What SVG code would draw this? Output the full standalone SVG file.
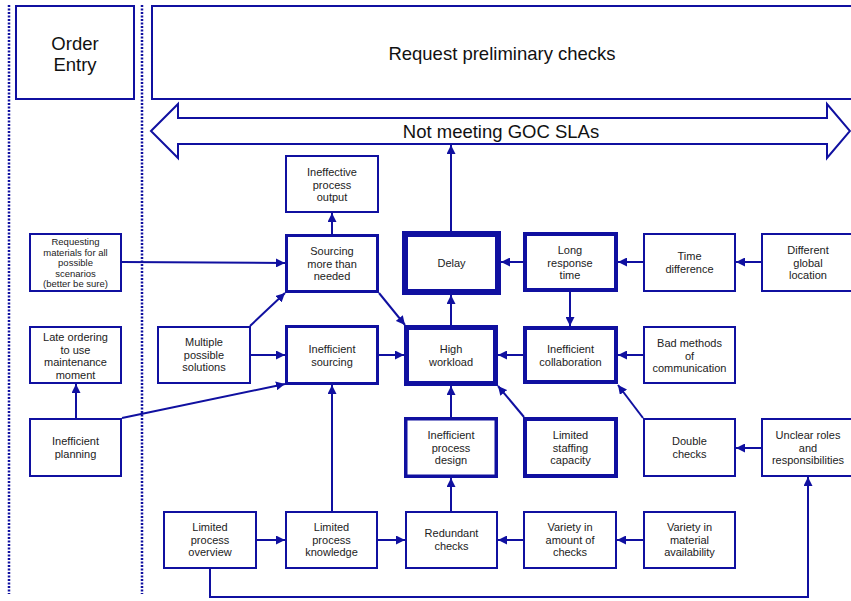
<svg xmlns="http://www.w3.org/2000/svg" width="851" height="601" viewBox="0 0 851 601">
<style>
  .bx { fill: #ffffff; stroke: #1010a0; }
  .t { font-family: "Liberation Sans", Arial, sans-serif; font-size: 11px; fill: #222222; text-anchor: middle; }
  .ts { font-family: "Liberation Sans", Arial, sans-serif; font-size: 9.5px; fill: #222222; text-anchor: middle; }
  .tl { font-family: "Liberation Sans", Arial, sans-serif; font-size: 18.5px; fill: #111111; text-anchor: middle; }
  .c { fill: none; stroke: #1010a0; stroke-width: 2; marker-end: url(#ah); }
  .dot { fill: none; stroke: #1010a0; stroke-width: 2.5; stroke-dasharray: 2 1.5; }
</style>
<defs>
  <marker id="ah" markerUnits="userSpaceOnUse" markerWidth="9" markerHeight="9" viewBox="0 0 9 9" refX="9" refY="4.5" orient="auto">
    <path d="M0,0 L9,4.5 L0,9 z" fill="#1010a0"/>
  </marker>
</defs>
<rect width="851" height="601" fill="#ffffff"/>

<g id="dividers">
  <line class="dot" x1="9" y1="5" x2="9" y2="594"/>
  <line class="dot" x1="142" y1="5" x2="142" y2="594"/>
</g>

<g id="order-entry">
  <rect class="bx" x="16" y="6" width="118" height="93" stroke-width="2"/>
  <text class="tl" x="75" y="50">Order</text>
  <text class="tl" x="75" y="71">Entry</text>
</g>
<g id="request-preliminary-checks">
  <rect class="bx" x="152" y="6" width="710" height="93" stroke-width="2"/>
  <text class="tl" x="502" y="60">Request preliminary checks</text>
</g>
<g id="not-meeting-slas">
  <polygon class="bx" stroke-width="2" points="151,131 178,104 178,118 827,118 827,104 850,131 827,158 827,144 178,144 178,158"/>
  <text class="tl" x="501" y="138">Not meeting GOC SLAs</text>
</g>

<g id="connectors">
  <line class="c" x1="451" y1="231" x2="451" y2="145"/>
  <line class="c" x1="332" y1="234" x2="332" y2="213"/>
  <line class="c" x1="523" y1="262" x2="501" y2="262"/>
  <line class="c" x1="643" y1="262" x2="618" y2="262"/>
  <line class="c" x1="761" y1="262" x2="736" y2="262"/>
  <line class="c" x1="570" y1="292" x2="570" y2="326"/>
  <line class="c" x1="643" y1="355" x2="618" y2="355"/>
  <line class="c" x1="523" y1="355" x2="498" y2="355"/>
  <line class="c" x1="379" y1="355" x2="404" y2="355"/>
  <line class="c" x1="251" y1="355" x2="285" y2="355"/>
  <line class="c" x1="250" y1="326" x2="285" y2="293"/>
  <line class="c" x1="379" y1="293" x2="405" y2="325"/>
  <line class="c" x1="122" y1="262" x2="285" y2="263"/>
  <line class="c" x1="122" y1="418" x2="285" y2="384"/>
  <line class="c" x1="76" y1="418" x2="76" y2="384"/>
  <line class="c" x1="451" y1="325" x2="451" y2="295"/>
  <line class="c" x1="451" y1="417" x2="451" y2="386"/>
  <line class="c" x1="524" y1="417" x2="498" y2="386"/>
  <line class="c" x1="643" y1="418" x2="618" y2="385"/>
  <line class="c" x1="761" y1="448" x2="736" y2="448"/>
  <line class="c" x1="332" y1="511" x2="332" y2="385"/>
  <line class="c" x1="451" y1="511" x2="451" y2="478"/>
  <line class="c" x1="257" y1="540" x2="285" y2="540"/>
  <line class="c" x1="378" y1="540" x2="405" y2="540"/>
  <line class="c" x1="523" y1="540" x2="498" y2="540"/>
  <line class="c" x1="643" y1="540" x2="617" y2="540"/>
  <polyline class="c" points="210,569 210,597 808,597 808,477"/>
</g>

<g id="ineffective-process-output">
  <rect class="bx" x="286" y="156" width="92" height="56" stroke-width="2"/>
  <text class="t" x="332" y="176">Ineffective</text>
  <text class="t" x="332" y="188.5">process</text>
  <text class="t" x="332" y="201">output</text>
</g>
<g id="sourcing-more-than-needed">
  <rect class="bx" x="286.5" y="235.5" width="91" height="56" stroke-width="3"/>
  <text class="t" x="332" y="255">Sourcing</text>
  <text class="t" x="332" y="267.5">more than</text>
  <text class="t" x="332" y="280">needed</text>
</g>
<g id="delay">
  <rect class="bx" x="405" y="234" width="93" height="58" stroke-width="6"/>
  <text class="t" x="451.5" y="267">Delay</text>
</g>
<g id="long-response-time">
  <rect class="bx" x="525" y="234" width="91" height="56" stroke-width="4"/>
  <text class="t" x="570" y="254">Long</text>
  <text class="t" x="570" y="266.5">response</text>
  <text class="t" x="570" y="279">time</text>
</g>
<g id="time-difference">
  <rect class="bx" x="644" y="234" width="91" height="57" stroke-width="2"/>
  <text class="t" x="689.5" y="260">Time</text>
  <text class="t" x="689.5" y="273">difference</text>
</g>
<g id="different-global-location">
  <rect class="bx" x="762" y="234" width="100" height="57" stroke-width="2"/>
  <text class="t" x="808" y="254">Different</text>
  <text class="t" x="808" y="266.5">global</text>
  <text class="t" x="808" y="279">location</text>
</g>
<g id="requesting-materials">
  <rect class="bx" x="30" y="234" width="91" height="57" stroke-width="2"/>
  <text class="ts" x="75.5" y="245">Requesting</text>
  <text class="ts" x="75.5" y="255.6">materials for all</text>
  <text class="ts" x="75.5" y="266.2">possible</text>
  <text class="ts" x="75.5" y="276.8">scenarios</text>
  <text class="ts" x="75.5" y="287.4">(better be sure)</text>
</g>
<g id="late-ordering">
  <rect class="bx" x="30" y="327" width="91" height="56" stroke-width="2"/>
  <text class="t" x="75.5" y="341">Late ordering</text>
  <text class="t" x="75.5" y="353.5">to use</text>
  <text class="t" x="75.5" y="366">maintenance</text>
  <text class="t" x="75.5" y="378.5">moment</text>
</g>
<g id="multiple-possible-solutions">
  <rect class="bx" x="158" y="327" width="92" height="56" stroke-width="2"/>
  <text class="t" x="204" y="346">Multiple</text>
  <text class="t" x="204" y="358.5">possible</text>
  <text class="t" x="204" y="371">solutions</text>
</g>
<g id="inefficient-sourcing">
  <rect class="bx" x="286.5" y="326.5" width="91" height="57" stroke-width="3"/>
  <text class="t" x="332" y="353">Inefficient</text>
  <text class="t" x="332" y="365.5">sourcing</text>
</g>
<g id="high-workload">
  <rect class="bx" x="406.5" y="327.5" width="89" height="56" stroke-width="5"/>
  <text class="t" x="451" y="353">High</text>
  <text class="t" x="451" y="365.5">workload</text>
</g>
<g id="inefficient-collaboration">
  <rect class="bx" x="525" y="328" width="91" height="54" stroke-width="4"/>
  <text class="t" x="570.5" y="353">Inefficient</text>
  <text class="t" x="570.5" y="365.5">collaboration</text>
</g>
<g id="bad-methods-of-communication">
  <rect class="bx" x="644" y="327" width="91" height="56" stroke-width="2"/>
  <text class="t" x="689.5" y="347">Bad methods</text>
  <text class="t" x="689.5" y="359.5">of</text>
  <text class="t" x="689.5" y="372">communication</text>
</g>
<g id="inefficient-planning">
  <rect class="bx" x="30" y="419" width="91" height="57" stroke-width="2"/>
  <text class="t" x="75.5" y="445">Inefficient</text>
  <text class="t" x="75.5" y="458">planning</text>
</g>
<g id="inefficient-process-design">
  <rect class="bx" x="405.75" y="418.75" width="90.5" height="57.5" stroke-width="3.5"/>
  <text class="t" x="451" y="439">Inefficient</text>
  <text class="t" x="451" y="451.5">process</text>
  <text class="t" x="451" y="464">design</text>
</g>
<g id="limited-staffing-capacity">
  <rect class="bx" x="525" y="419" width="91" height="57" stroke-width="4"/>
  <text class="t" x="570.5" y="439">Limited</text>
  <text class="t" x="570.5" y="451.5">staffing</text>
  <text class="t" x="570.5" y="464">capacity</text>
</g>
<g id="double-checks">
  <rect class="bx" x="644" y="419" width="91" height="57" stroke-width="2"/>
  <text class="t" x="689.5" y="445">Double</text>
  <text class="t" x="689.5" y="458">checks</text>
</g>
<g id="unclear-roles">
  <rect class="bx" x="762" y="419" width="100" height="57" stroke-width="2"/>
  <text class="t" x="808" y="439">Unclear roles</text>
  <text class="t" x="808" y="451.5">and</text>
  <text class="t" x="808" y="464">responsibilities</text>
</g>
<g id="limited-process-overview">
  <rect class="bx" x="164" y="512" width="92" height="56" stroke-width="2"/>
  <text class="t" x="210" y="531">Limited</text>
  <text class="t" x="210" y="543.5">process</text>
  <text class="t" x="210" y="556">overview</text>
</g>
<g id="limited-process-knowledge">
  <rect class="bx" x="286" y="512" width="91" height="56" stroke-width="2"/>
  <text class="t" x="331.5" y="531">Limited</text>
  <text class="t" x="331.5" y="543.5">process</text>
  <text class="t" x="331.5" y="556">knowledge</text>
</g>
<g id="redundant-checks">
  <rect class="bx" x="406" y="512" width="91" height="56" stroke-width="2"/>
  <text class="t" x="451.5" y="537">Redundant</text>
  <text class="t" x="451.5" y="550">checks</text>
</g>
<g id="variety-in-amount-of-checks">
  <rect class="bx" x="524" y="512" width="92" height="56" stroke-width="2"/>
  <text class="t" x="570" y="531">Variety in</text>
  <text class="t" x="570" y="543.5">amount of</text>
  <text class="t" x="570" y="556">checks</text>
</g>
<g id="variety-in-material-availability">
  <rect class="bx" x="644" y="512" width="91" height="56" stroke-width="2"/>
  <text class="t" x="689.5" y="531">Variety in</text>
  <text class="t" x="689.5" y="543.5">material</text>
  <text class="t" x="689.5" y="556">availability</text>
</g>
</svg>
